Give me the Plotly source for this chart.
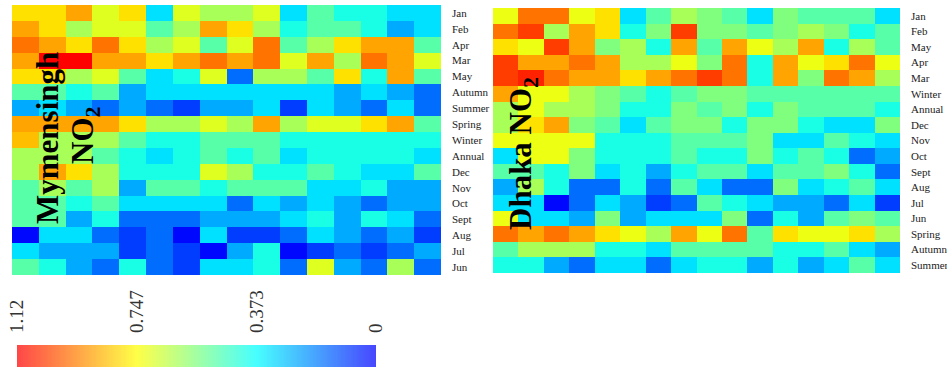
import numpy as np
import plotly.graph_objects as go

# ---- data -------------------------------------------------------------
cols = list(range(1, 17))

mym_rows = ["Jan", "Feb", "Apr", "Mar", "May", "Autumn", "Summer", "Spring", "Winter",
            "Annual", "Dec", "Nov", "Oct", "Sept", "Aug", "Jul", "Jun"]
mym_z = [
    [0.79, 0.79, 0.88, 0.70, 0.79, 0.33, 0.70, 0.62, 0.62, 0.70, 0.33, 0.50, 0.41, 0.41, 0.33, 0.33],
    [0.88, 0.79, 0.62, 0.70, 0.70, 0.50, 0.62, 0.88, 0.79, 0.62, 0.41, 0.50, 0.50, 0.41, 0.25, 0.33],
    [0.95, 0.88, 0.79, 0.95, 0.79, 0.62, 0.70, 0.50, 0.70, 0.95, 0.50, 0.62, 0.79, 0.88, 0.88, 0.50],
    [0.88, 1.12, 1.12, 0.88, 0.88, 0.79, 0.88, 0.95, 0.88, 0.95, 0.70, 0.88, 0.62, 0.95, 0.88, 0.70],
    [0.79, 0.79, 0.62, 0.70, 0.50, 0.33, 0.41, 0.70, 0.16, 0.62, 0.62, 0.50, 0.79, 0.41, 0.88, 0.50],
    [0.50, 0.50, 0.41, 0.50, 0.25, 0.33, 0.33, 0.33, 0.33, 0.33, 0.33, 0.33, 0.25, 0.33, 0.25, 0.16],
    [0.25, 0.33, 0.25, 0.16, 0.25, 0.16, 0.09, 0.25, 0.25, 0.33, 0.09, 0.33, 0.25, 0.16, 0.33, 0.16],
    [0.88, 0.88, 0.88, 0.88, 0.79, 0.62, 0.62, 0.70, 0.62, 0.88, 0.62, 0.70, 0.70, 0.79, 0.88, 0.50],
    [0.84, 0.62, 0.62, 0.62, 0.50, 0.41, 0.41, 0.50, 0.50, 0.50, 0.41, 0.41, 0.41, 0.41, 0.41, 0.41],
    [0.62, 0.62, 0.62, 0.50, 0.41, 0.33, 0.41, 0.50, 0.41, 0.50, 0.33, 0.41, 0.41, 0.41, 0.41, 0.33],
    [0.62, 0.88, 0.79, 0.62, 0.41, 0.41, 0.41, 0.70, 0.62, 0.41, 0.41, 0.50, 0.41, 0.33, 0.33, 0.50],
    [0.50, 0.62, 0.50, 0.62, 0.25, 0.50, 0.50, 0.41, 0.50, 0.50, 0.50, 0.33, 0.33, 0.41, 0.25, 0.25],
    [0.50, 0.50, 0.41, 0.50, 0.33, 0.33, 0.33, 0.33, 0.16, 0.33, 0.25, 0.33, 0.25, 0.16, 0.25, 0.25],
    [0.50, 0.50, 0.25, 0.41, 0.16, 0.16, 0.16, 0.25, 0.25, 0.25, 0.33, 0.41, 0.25, 0.41, 0.33, 0.16],
    [0.01, 0.33, 0.33, 0.16, 0.09, 0.16, 0.01, 0.33, 0.09, 0.09, 0.16, 0.33, 0.25, 0.16, 0.25, 0.09],
    [0.33, 0.25, 0.25, 0.25, 0.09, 0.16, 0.09, 0.01, 0.25, 0.41, 0.01, 0.09, 0.16, 0.09, 0.16, 0.25],
    [0.50, 0.41, 0.25, 0.16, 0.41, 0.16, 0.09, 0.33, 0.33, 0.41, 0.16, 0.70, 0.25, 0.16, 0.62, 0.16],
]

dhk_rows = ["Jan", "Feb", "May", "Apr", "Mar", "Winter", "Annual", "Dec", "Nov", "Oct",
            "Sept", "Aug", "Jul", "Jun", "Spring", "Autumn", "Summer"]
dhk_z = [
    [0.72, 0.95, 0.95, 0.72, 0.79, 0.33, 0.50, 0.62, 0.56, 0.50, 0.33, 0.56, 0.50, 0.50, 0.50, 0.33],
    [0.95, 1.03, 0.62, 0.88, 0.79, 0.41, 0.56, 1.03, 0.56, 0.56, 0.50, 0.56, 0.62, 0.56, 0.41, 0.50],
    [0.79, 0.72, 1.03, 0.88, 0.56, 0.62, 0.41, 0.88, 0.50, 0.88, 0.72, 0.62, 0.88, 0.41, 0.62, 0.50],
    [1.03, 0.88, 0.88, 0.95, 0.88, 0.62, 0.62, 0.72, 0.56, 0.95, 0.41, 0.88, 0.72, 0.79, 0.95, 0.72],
    [1.03, 1.07, 0.95, 0.88, 0.88, 0.79, 0.88, 0.95, 1.03, 0.95, 0.41, 0.88, 0.56, 0.95, 0.88, 0.62],
    [0.88, 0.72, 0.72, 0.62, 0.56, 0.50, 0.41, 0.50, 0.56, 0.56, 0.50, 0.50, 0.50, 0.50, 0.50, 0.50],
    [0.62, 0.72, 0.62, 0.62, 0.56, 0.41, 0.41, 0.56, 0.50, 0.56, 0.41, 0.56, 0.50, 0.50, 0.50, 0.41],
    [0.62, 0.79, 0.88, 0.56, 0.50, 0.33, 0.50, 0.56, 0.56, 0.41, 0.56, 0.56, 0.41, 0.33, 0.33, 0.56],
    [0.72, 0.72, 0.72, 0.72, 0.41, 0.41, 0.41, 0.50, 0.50, 0.50, 0.56, 0.33, 0.33, 0.50, 0.41, 0.33],
    [0.33, 0.72, 0.72, 0.56, 0.41, 0.41, 0.41, 0.50, 0.41, 0.41, 0.56, 0.41, 0.50, 0.41, 0.16, 0.25],
    [0.50, 0.50, 0.41, 0.56, 0.33, 0.41, 0.25, 0.41, 0.50, 0.50, 0.33, 0.50, 0.50, 0.56, 0.41, 0.16],
    [0.25, 0.62, 0.41, 0.16, 0.16, 0.41, 0.16, 0.50, 0.33, 0.16, 0.16, 0.56, 0.33, 0.41, 0.50, 0.33],
    [0.33, 0.33, 0.01, 0.16, 0.33, 0.25, 0.09, 0.16, 0.50, 0.41, 0.33, 0.25, 0.25, 0.16, 0.33, 0.09],
    [0.72, 0.33, 0.33, 0.25, 0.56, 0.25, 0.33, 0.33, 0.33, 0.56, 0.16, 0.41, 0.25, 0.50, 0.56, 0.50],
    [0.95, 0.88, 0.95, 0.88, 0.79, 0.72, 0.62, 0.88, 0.72, 0.95, 0.50, 0.79, 0.72, 0.72, 0.79, 0.62],
    [0.50, 0.62, 0.62, 0.62, 0.41, 0.41, 0.33, 0.50, 0.50, 0.50, 0.50, 0.41, 0.41, 0.50, 0.33, 0.25],
    [0.41, 0.41, 0.25, 0.16, 0.33, 0.33, 0.16, 0.33, 0.41, 0.41, 0.25, 0.41, 0.25, 0.33, 0.50, 0.33],
]

zmin, zmax = 0.0, 1.12
cbar_tickvals = [1.12, 0.747, 0.373, 0]
cbar_ticktext = ["1.12", "0.747", "0.373", "0"]

# ---- figure -----------------------------------------------------------
W, H = 947, 374
def px(x): return x / W
def py(y): return 1 - y / H

cscale = [[0, "#0000ff"], [1/3, "#00ffff"], [2/3, "#ffff00"], [1, "#ff0000"]]
serif = "Liberation Serif, Times New Roman, serif"

fig = go.Figure()
fig.add_trace(go.Heatmap(z=mym_z, x=cols, y=mym_rows, colorscale=cscale, zmin=zmin, zmax=zmax,
                         showscale=False, xaxis="x", yaxis="y", hoverinfo="skip"))
fig.add_trace(go.Heatmap(z=dhk_z, x=cols, y=dhk_rows, colorscale=cscale, zmin=zmin, zmax=zmax,
                         showscale=False, xaxis="x2", yaxis="y2", hoverinfo="skip"))

# colour-bar legend strip (gradient, reversed: 1.12 on the left)
nstep = 300
edges = np.linspace(zmin, zmax, nstep + 1)
mids = (edges[:-1] + edges[1:]) / 2
fig.add_trace(go.Heatmap(z=[mids], x=edges, y=[0, 1], colorscale=cscale, zmin=zmin, zmax=zmax,
                         showscale=False, xaxis="x3", yaxis="y3", opacity=0.72, hoverinfo="skip"))

yax = dict(side="right", ticks="", showgrid=False, zeroline=False, showline=False,
           autorange="reversed", ticklabelstandoff=10, automargin=False,
           tickfont=dict(family=serif, size=11, color="#222"))
xax = dict(showticklabels=False, ticks="", showgrid=False, zeroline=False, showline=False,
           automargin=False)

fig.update_layout(
    width=W, height=H, margin=dict(l=0, r=0, t=0, b=0, pad=0), autosize=False,
    paper_bgcolor="white", plot_bgcolor="white",
    xaxis=dict(domain=[px(12), px(441)], anchor="y", **xax),
    yaxis=dict(domain=[py(275), py(5)], anchor="x", **yax),
    xaxis2=dict(domain=[px(493), px(900)], anchor="y2", **xax),
    yaxis2=dict(domain=[py(273), py(8)], anchor="x2", **yax),
    xaxis3=dict(domain=[px(17), px(376)], anchor="y3", range=[zmax, zmin], side="top",
                tickvals=cbar_tickvals, ticktext=cbar_ticktext, tickangle=-90, ticks="",
                showgrid=False, zeroline=False, showline=False, ticklabelstandoff=11,
                automargin=False,
                tickfont=dict(family=serif, size=19, color="#333")),
    yaxis3=dict(domain=[py(367), py(345)], anchor="x3", showticklabels=False, ticks="",
                showgrid=False, zeroline=False, range=[0, 1], automargin=False),
    shapes=[dict(type="rect", xref="paper", yref="paper", x0=px(490), x1=px(493),
                 y0=py(280), y1=py(0), fillcolor="white", line=dict(width=0), layer="above")],
    annotations=[
        dict(text="<b>Mymensingh</b>", x=px(48), y=py(138), xref="paper", yref="paper",
             textangle=-90, showarrow=False, xanchor="center", yanchor="middle",
             font=dict(family=serif, size=31, color="black")),
        dict(text="<b>NO<sub>2</sub></b>", x=px(85), y=py(136), xref="paper", yref="paper",
             textangle=-90, showarrow=False, xanchor="center", yanchor="middle",
             font=dict(family=serif, size=31, color="black")),
        dict(text="<b>Dhaka NO<sub>2</sub></b>", x=px(523), y=py(154), xref="paper", yref="paper",
             textangle=-90, showarrow=False, xanchor="center", yanchor="middle",
             font=dict(family=serif, size=31, color="black")),
    ],
)

fig.write_html("out.html", config={"displayModeBar": False},
               post_script="document.body.style.margin='0px';")
